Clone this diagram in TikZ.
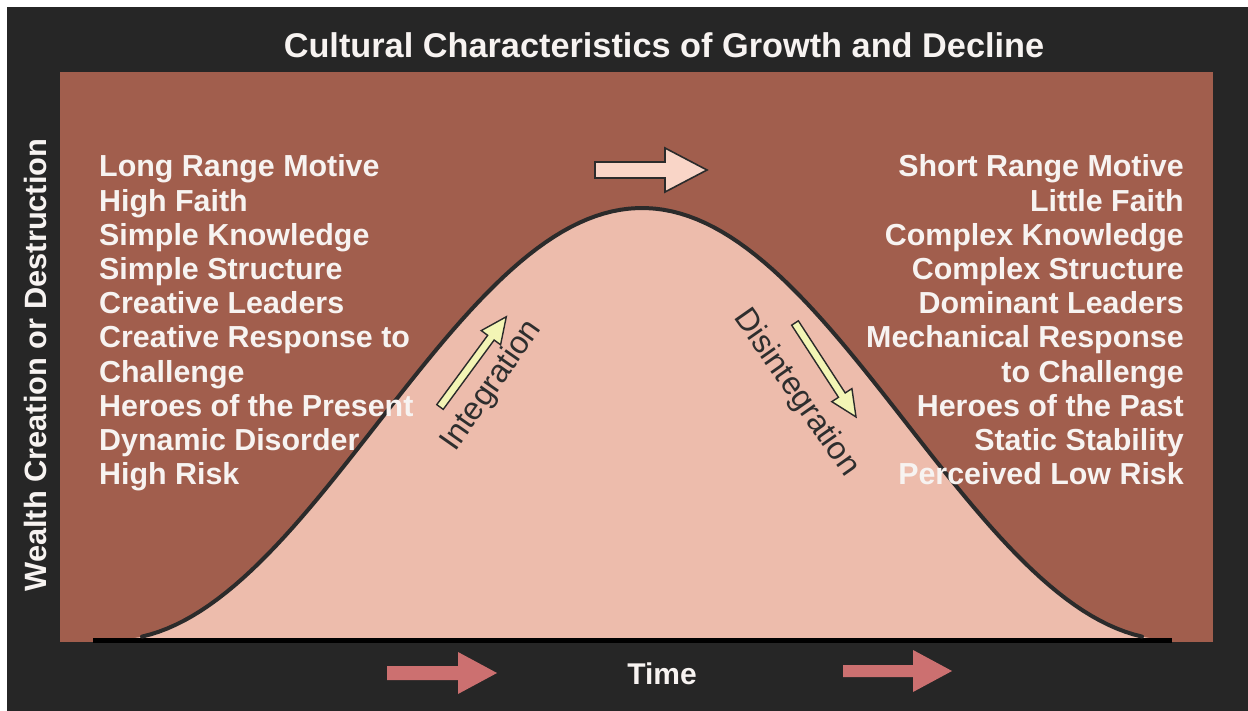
\documentclass[tikz,border=0pt]{standalone}
\usepackage{fontspec}
\setmainfont{Liberation Sans}
\definecolor{bgdark}{HTML}{262626}
\definecolor{panel}{HTML}{A15E4D}
\definecolor{pinkfill}{HTML}{EDBCAC}
\definecolor{curveline}{HTML}{2B2B2B}
\definecolor{baseline}{HTML}{3C3A3A}
\definecolor{toparrow}{HTML}{F9D5C7}
\definecolor{botarrow}{HTML}{CC7070}
\definecolor{yelarrow}{HTML}{F3F5B5}
\definecolor{txtwhite}{HTML}{F7F3F1}
\definecolor{txtdark}{HTML}{2E2E2E}
\tikzset{
  listtext/.style={text=txtwhite, font=\bfseries\fontsize{30.4}{34}\selectfont, inner sep=0pt},
  titletext/.style={text=txtwhite, font=\bfseries\fontsize{34.3}{38}\selectfont, inner sep=0pt},
  axistext/.style={text=txtwhite, font=\bfseries\fontsize{30}{34}\selectfont, inner sep=0pt},
  ylabeltext/.style={text=txtwhite, font=\bfseries\fontsize{30.8}{34}\selectfont, inner sep=0pt},
  slopetext/.style={text=txtdark, font=\fontsize{32}{36}\selectfont, inner sep=0pt},
  yarrow/.style={fill=yelarrow, draw=curveline, line width=1.4pt, line join=miter},
}
\begin{document}
\begin{tikzpicture}[x=1pt,y=-1pt]
\useasboundingbox (0,0) rectangle (1248,711);
\fill[white] (0,0) rectangle (1248,711);
\fill[bgdark] (7,7) rectangle (1248,711);
\fill[panel] (60,72) rectangle (1213,642);
% bell curve
\fill[pinkfill] plot[domain=-530:530, samples=120] ({642+\x}, {640-216*(1+cos((\x/530)*180))}) -- cycle;
\draw[baseline, line width=5pt] (93,640) -- (1172,640);
\draw[curveline, line width=4pt, line cap=round] plot[domain=-500:500, samples=120] ({642+\x}, {640-216*(1+cos((\x/530)*180))});
% title and axis labels
\node[titletext, anchor=base] (title) at (664,58) {Cultural Characteristics of Growth and Decline};
\node[axistext, anchor=base] (time) at (662,684) {Time};
\node[ylabeltext, rotate=90, anchor=base] (wealth) at (46,365) {Wealth Creation or Destruction};
% left list
\foreach \t [count=\i] in {Long Range Motive, High Faith, Simple Knowledge, Simple Structure, Creative Leaders, Creative Response to, Challenge, Heroes of the Present, Dynamic Disorder, High Risk}
  \node[listtext, anchor=base west] (L\i) at (99,{177+34.2*(\i-1)}) {\t};
% right list
\foreach \t [count=\i] in {Short Range Motive, Little Faith, Complex Knowledge, Complex Structure, Dominant Leaders, Mechanical Response, to Challenge, Heroes of the Past, Static Stability, Perceived Low Risk}
  \node[listtext, anchor=base east] (R\i) at (1184,{177+34.2*(\i-1)}) {\t};
% top arrow
\coordinate (ta) at (595,170);
\fill[toparrow, draw=curveline, line width=1.6pt, line join=miter] (ta) ++(0,-8) -- ++(70,0) -- ++(0,-14) -- ++(42,22) -- ++(-42,22) -- ++(0,-14) -- ++(-70,0) -- cycle;
% bottom arrows
\coordinate (ba1) at (387,673);
\fill[botarrow] (ba1) ++(0,-7) -- ++(71,0) -- ++(0,-14) -- ++(39,21) -- ++(-39,21) -- ++(0,-14) -- ++(-71,0) -- cycle;
\coordinate (ba2) at (843,671);
\fill[botarrow] (ba2) ++(0,-6) -- ++(70,0) -- ++(0,-15) -- ++(39,21) -- ++(-39,21) -- ++(0,-15) -- ++(-70,0) -- cycle;
% yellow arrows
\begin{scope}[shift={(440,407)}, rotate=53.7]
  \draw[yarrow] (0,-4) -- (86,-4) -- (86,-12) -- (112,0) -- (86,12) -- (86,4) -- (0,4) -- cycle;
\end{scope}
\begin{scope}[shift={(795,323)}, rotate=-57]
  \draw[yarrow] (0,-4) -- (86,-4) -- (86,-12) -- (112,0) -- (86,12) -- (86,4) -- (0,4) -- cycle;
\end{scope}
% slope labels
\node[slopetext, rotate=55] (integ) at (492,386) {Integration};
\node[slopetext, rotate=-55] (disinteg) at (796,393) {Disintegration};
\end{tikzpicture}
\end{document}
